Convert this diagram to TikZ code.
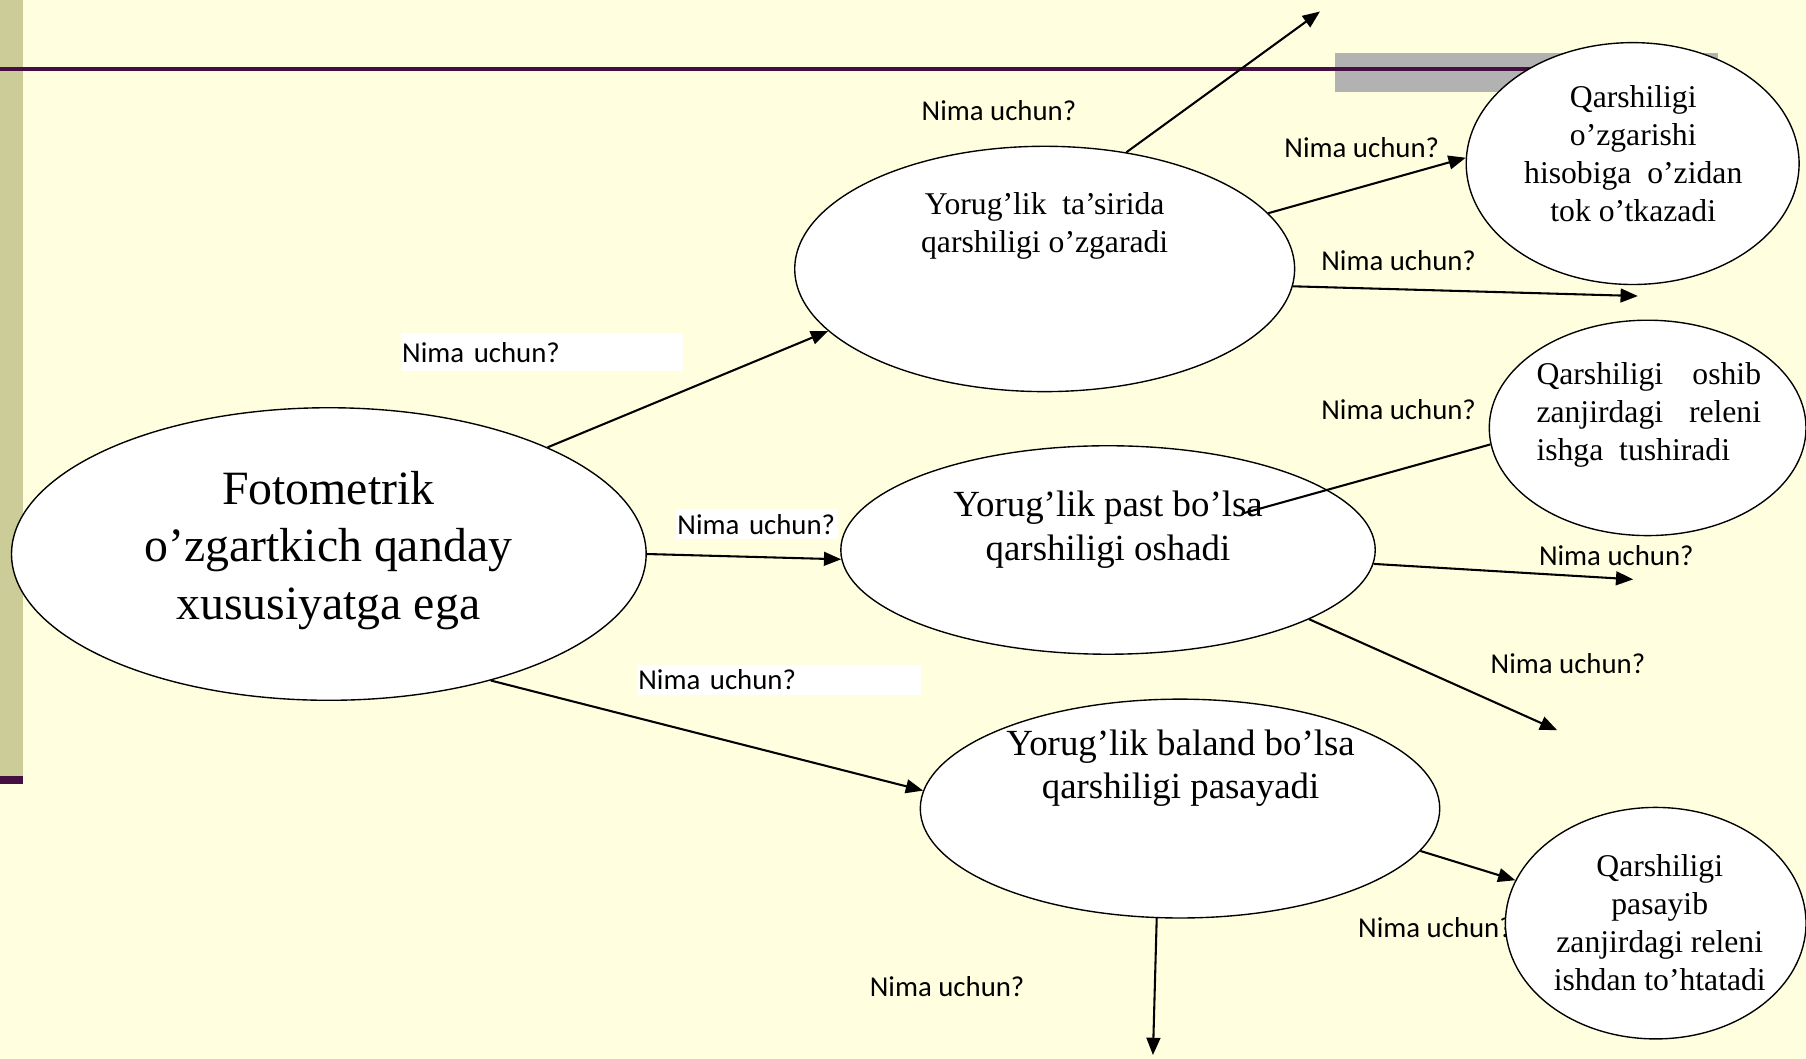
\documentclass[tikz,border=0pt]{standalone}
\usepackage{fontspec}
\setmainfont{Liberation Serif}
\newfontfamily\labelfont{Carlito}
\usetikzlibrary{shapes.geometric,arrows.meta}
\definecolor{bg}{HTML}{FFFFE0}
\definecolor{barcol}{HTML}{CCCC99}
\definecolor{plum}{RGB}{70,15,65}
\definecolor{graybar}{HTML}{B2B2B2}
\begin{document}
\begin{tikzpicture}[x=1pt,y=-1pt,
  bubble/.style={ellipse, draw=black, line width=1.2pt, fill=white, inner sep=0pt},
  btext/.style={align=center, inner sep=0pt, font=\fontsize{27.5}{33}\selectfont},
  bigtext/.style={align=center, inner sep=0pt, font=\fontsize{32}{38}\selectfont},
  why/.style={anchor=west, inner sep=0pt, font=\labelfont\fontsize{25}{30}\selectfont},
  whybox/.style={anchor=north west, fill=white, inner xsep=1pt, inner ysep=0pt, align=left, font=\labelfont\fontsize{25}{30}\selectfont},
  conn/.style={line width=1.8pt, -{Triangle[length=15pt,width=12pt]}},
  plainline/.style={line width=1.8pt}]
\fill[bg] (0,0) rectangle (1568,919);
\useasboundingbox (0,0) rectangle (1568,919);
% slide decorations
\fill[barcol] (0,0) rectangle (20,674);
\fill[plum] (0,674) rectangle (20,681);
\fill[graybar] (1159,46) rectangle (1492,80);
\draw[plum, line width=3.5pt] (0,60) -- (1492,60);
% labels
\node[whybox, text width=243pt, minimum height=33pt] (w1) at (348,289) {Nima uchun?};
\node[whybox, text width=138pt, minimum height=26pt] (w2) at (587,442) {Nima uchun?};
\node[whybox, text width=244pt, minimum height=26pt] (w3) at (553,577) {Nima uchun?};
\node[why] (w4) at (800,96) {Nima uchun?};
\node[why] (w5) at (1115,128) {Nima uchun?};
\node[why] (w6) at (1147,226) {Nima uchun?};
\node[why] (w7) at (1147,356) {Nima uchun?};
\node[why] (w8) at (1336,482) {Nima uchun?};
\node[why] (w9) at (1294,576) {Nima uchun?};
\node[why] (w10) at (1179,805) {Nima uchun?};
\node[why] (w11) at (755,857) {Nima uchun?};
% ellipses
\node[bubble, minimum width=551pt, minimum height=254pt] (e0) at (285.5,481) {};
\node[bubble, minimum width=434pt, minimum height=213pt] (e1) at (907,233.5) {};
\node[bubble, minimum width=464pt, minimum height=181pt] (e2) at (962,477.5) {};
\node[bubble, minimum width=451pt, minimum height=190pt] (e3) at (1024.5,702) {};
\node[bubble, minimum width=289pt, minimum height=210pt] (s1) at (1417.5,142) {};
\node[bubble, minimum width=275pt, minimum height=187pt] (s2) at (1430.5,371.5) {};
\node[bubble, minimum width=261pt, minimum height=201pt] (s3) at (1437.5,801.5) {};
% texts
\node[align=center, inner sep=0pt, font=\fontsize{41.5}{50}\selectfont] (t0) at (285,478) {Fotometrik\\o’zgartkich qanday\\xususiyatga ega};
\node[btext] (t1) at (907,196) {Yorug’lik\ \ ta’sirida\\qarshiligi o’zgaradi};
\node[bigtext] (t2) at (962,460) {Yorug’lik past bo’lsa\\qarshiligi oshadi};
\node[bigtext] (t3) at (1025,667) {Yorug’lik baland bo’lsa\\qarshiligi pasayadi};
\node[btext] (t4) at (1418,133) {Qarshiligi\\o’zgarishi\\hisobiga\ \ o’zidan\\tok o’tkazadi};
\node[btext, align=left] (t5) at (1431.5,360) {\hbox to 195pt{Qarshiligi\hfill oshib}\\\hbox to 195pt{zanjirdagi\hfill releni}\\\hbox to 195pt{ishga\ \ tushiradi\hfill}};
\node[btext] (t6) at (1441,801) {Qarshiligi\\pasayib\\zanjirdagi releni\\ishdan to’htatadi};
% connectors
\coordinate (f1) at (1146,10);
\coordinate (f2) at (1422,257);
\coordinate (f3) at (1078,446);
\coordinate (f4) at (1418,503);
\coordinate (f5) at (1352,634);
\coordinate (f6) at (1001,916);
\draw[conn] (e0.26) -- (e1.196);
\draw[conn] (e0.0) -- (e2.182);
\draw[conn] (e0.322) -- (e3.176);
\draw[conn] (e1.55) -- (f1);
\draw[conn] (e1.14) -- (s1.178);
\draw[conn] (e1.356) -- (f2);
\draw[plainline] (s2.186) -- (f3);
\draw[conn] (e2.357) -- (f4);
\draw[conn] (e2.341) -- (f5);
\draw[conn] (e3.350) -- (s3.163);
\draw[conn] (e3.258) -- (f6);
\end{tikzpicture}
\end{document}
